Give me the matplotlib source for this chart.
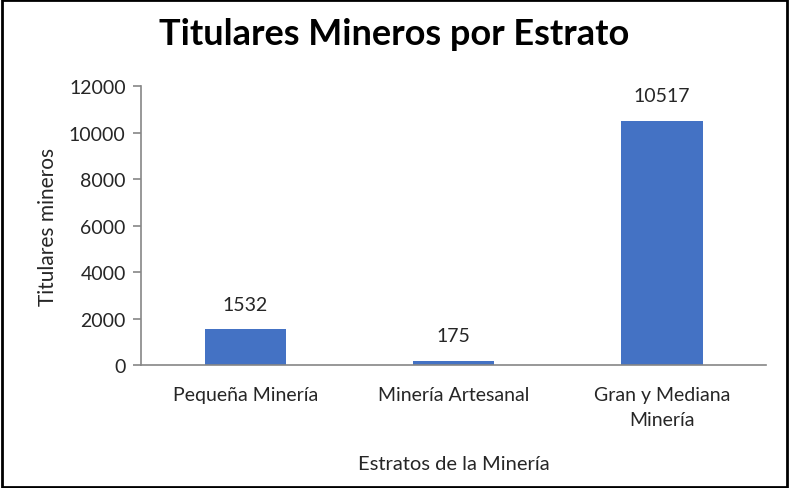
import matplotlib
matplotlib.use("Agg")
import matplotlib.pyplot as plt
from matplotlib.patches import Rectangle

plt.rcParams['font.family'] = ['Lato', 'DejaVu Sans']

# data
estratos = ['Pequeña Minería', 'Minería Artesanal', 'Gran y Mediana\nMinería']
titulares = [1532, 175, 10517]
yticks = [0, 2000, 4000, 6000, 8000, 10000, 12000]

fig = plt.figure(figsize=(7.89, 4.89), dpi=100)
ax = fig.add_axes([0.1787, 0.2515, 0.7923, 0.5705])

x = range(len(estratos))
bars = ax.bar(x, titulares, width=0.39, color='#4472C4')

# value labels above bars
for b, v in zip(bars, titulares):
    ax.annotate(str(v), (b.get_x() + b.get_width() / 2, v),
                xytext=(0, 12), textcoords='offset points',
                ha='center', va='bottom', fontsize=14, color='#262626')

ax.set_xlim(-0.5, len(estratos) - 0.5)
ax.set_ylim(0, 12000)
ax.set_yticks(yticks)
ax.set_xticks(list(x))
ax.set_xticklabels(estratos, fontsize=14, color='#262626', linespacing=1.6)
ax.tick_params(axis='y', labelsize=14, labelcolor='#262626', length=6,
               color='#868686', width=1.2, pad=5)
ax.tick_params(axis='x', length=0, pad=15)

for s in ['top', 'right']:
    ax.spines[s].set_visible(False)
for s in ['left', 'bottom']:
    ax.spines[s].set_color('#868686')
    ax.spines[s].set_linewidth(1.2)

ax.set_ylabel('Titulares mineros', fontsize=15, color='#262626', labelpad=8)
ax.set_xlabel('Estratos de la Minería', fontsize=14.5, color='#262626', labelpad=19)

fig.text(0.5, 0.93, 'Titulares Mineros por Estrato', ha='center', va='center',
         fontsize=26, fontweight='bold', color='black')

# frame around the chart
fig.patches.append(Rectangle((0.002, 0.003), 0.996, 0.994, transform=fig.transFigure,
                             fill=False, edgecolor='black', linewidth=2))

fig.savefig('out.png', dpi=100)
